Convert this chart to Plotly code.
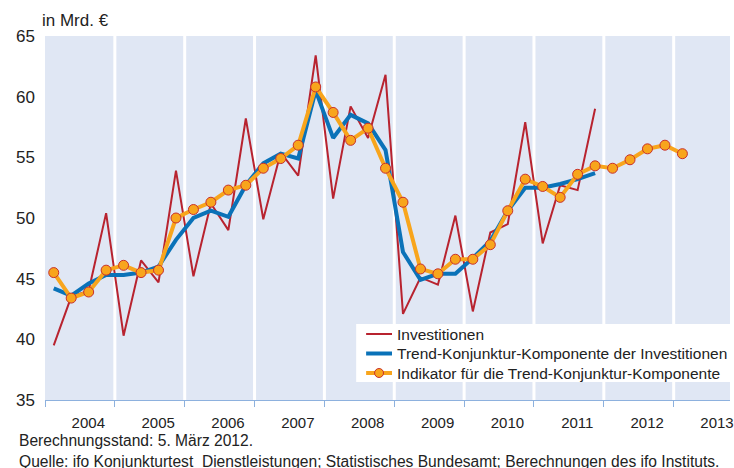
import plotly.graph_objects as go

# ---------------- data ----------------
start_year = 2004
year_labels = ["2004", "2005", "2006", "2007", "2008", "2009", "2010", "2011", "2012", "2013"]

# quarterly values from 2004 Q1 onwards (Mrd. €)
investitionen = [39.5, 43.5, 44.0, 50.4, 40.3, 46.5, 44.7, 53.9,
                 45.2, 51.2, 49.0, 58.2, 49.9, 55.4, 53.5, 63.4,
                 51.6, 59.2, 56.6, 61.8, 42.1, 45.1, 44.5, 50.2,
                 42.3, 48.8, 49.5, 57.9, 47.9, 52.7, 52.3, 59.0]
trend = [44.2, 43.6, 44.6, 45.3, 45.3, 45.5, 46.0, 48.2,
         50.0, 50.6, 50.1, 52.7, 54.5, 55.3, 54.9, 60.5,
         56.6, 58.5, 57.8, 55.6, 47.2, 44.9, 45.4, 45.4,
         46.7, 48.1, 50.6, 52.5, 52.5, 52.8, 53.2, 53.7]
indikator = [45.5, 43.4, 43.9, 45.7, 46.1, 45.5, 45.7, 50.0,
             50.7, 51.3, 52.3, 52.7, 54.1, 54.9, 56.0, 60.8,
             58.7, 56.4, 57.4, 54.1, 51.3, 45.8, 45.4, 46.6,
             46.6, 47.8, 50.6, 53.2, 52.6, 51.7, 53.6, 54.3,
             54.1, 54.8, 55.7, 56.0, 55.3]

legend_names = ["Investitionen",
                "Trend-Konjunktur-Komponente der Investitionen",
                "Indikator für die Trend-Konjunktur-Komponente"]
unit_label = "in Mrd. €"
footer_lines = ["Berechnungsstand: 5. März 2012.",
                "Quelle: ifo Konjunkturtest  Dienstleistungen; Statistisches Bundesamt; Berechnungen des ifo Instituts."]

# ---------------- styling ----------------
RED = "#b8232f"
BLUE = "#0a72b8"
ORANGE = "#f8a51c"
BAND = "#e0e7f4"
AXIS = "#8db1de"
TXT = "#222222"
FONT = "Liberation Sans, Arial, sans-serif"

W, H = 734, 468
L, R, T, B = 45, 0, 36, 68
PW, PH = W - L - R, H - T - B
YEAR_PX = 70.26


def qx(i):
    return start_year + i * 0.25 + 0.125


def px2x(px):
    return (px - L) / PW


def py2y(py):
    return (H - B - py) / PH


x_end = start_year + PW / YEAR_PX

fig = go.Figure()
fig.add_trace(go.Scatter(x=[qx(i) for i in range(len(investitionen))], y=investitionen,
                         mode="lines", line=dict(color=RED, width=2), name=legend_names[0],
                         showlegend=False))
fig.add_trace(go.Scatter(x=[qx(i) for i in range(len(trend))], y=trend,
                         mode="lines", line=dict(color=BLUE, width=4), name=legend_names[1],
                         showlegend=False))
fig.add_trace(go.Scatter(x=[qx(i) for i in range(len(indikator))], y=indikator,
                         mode="lines+markers", line=dict(color=ORANGE, width=4),
                         marker=dict(size=10, color=ORANGE, line=dict(color="#c8302c", width=1)),
                         name=legend_names[2], showlegend=False))

shapes = []
# white separators between year bands
for k in range(1, len(year_labels)):
    shapes.append(dict(type="line", xref="x", yref="paper", x0=start_year + k, x1=start_year + k,
                       y0=0, y1=1, line=dict(color="white", width=3), layer="below"))

# manual legend
shapes.append(dict(type="rect", xref="paper", yref="paper", x0=px2x(358), x1=px2x(745),
                   y0=py2y(382), y1=py2y(324), fillcolor="white", line=dict(width=0), layer="above"))
rows = [334, 353.5, 373]
cols = [(RED, 2), (BLUE, 4), (ORANGE, 4)]
annotations = []
for (c, w), ry, name in zip(cols, rows, legend_names):
    shapes.append(dict(type="line", xref="paper", yref="paper", x0=px2x(368), x1=px2x(394),
                       y0=py2y(ry), y1=py2y(ry), line=dict(color=c, width=w), layer="above"))
    annotations.append(dict(xref="paper", yref="paper", x=px2x(397), y=py2y(ry), text=name,
                            showarrow=False, xanchor="left", yanchor="middle",
                            font=dict(size=15.5, color=TXT, family=FONT)))
shapes.append(dict(type="circle", xref="paper", yref="paper", x0=px2x(376.5), x1=px2x(385.5),
                   y0=py2y(377.5), y1=py2y(368.5), fillcolor=ORANGE,
                   line=dict(color="#c8302c", width=1), layer="above"))

annotations.append(dict(xref="paper", yref="paper", x=px2x(40), y=py2y(21), text=unit_label,
                        showarrow=False, xanchor="left", yanchor="middle",
                        font=dict(size=17, color=TXT, family=FONT)))
for ly, line in zip([440, 461], footer_lines):
    annotations.append(dict(xref="paper", yref="paper", x=px2x(17), y=py2y(ly), text=line,
                            showarrow=False, xanchor="left", yanchor="middle",
                            font=dict(size=15.6, color=TXT, family=FONT)))

fig.update_layout(
    width=W, height=H,
    margin=dict(l=L, r=R, t=T, b=B, pad=0),
    paper_bgcolor="white", plot_bgcolor=BAND,
    shapes=shapes, annotations=annotations,
    showlegend=False,
    font=dict(family=FONT, color=TXT),
    xaxis=dict(range=[start_year, x_end], showgrid=False, zeroline=False,
               showline=True, linecolor=AXIS, linewidth=1,
               tickmode="array",
               tickvals=[start_year + k + 0.62 for k in range(len(year_labels))],
               ticktext=year_labels, ticks="", tickfont=dict(size=15, color=TXT),
               ticklabelstandoff=9, ticklabeloverflow="allow",
               minor=dict(tickmode="linear", tick0=start_year, dtick=1, ticks="outside",
                          ticklen=6, tickcolor=AXIS, tickwidth=1, showgrid=False)),
    yaxis=dict(range=[35, 65], showgrid=False, zeroline=False, showline=False,
               tickmode="array", tickvals=[35, 40, 45, 50, 55, 60, 65], ticks="",
               tickfont=dict(size=17, color=TXT), ticklabelstandoff=9),
)

fig.write_html("out.html", config={"displayModeBar": False},
               post_script="document.body.style.margin='0';document.body.style.overflow='hidden';")
